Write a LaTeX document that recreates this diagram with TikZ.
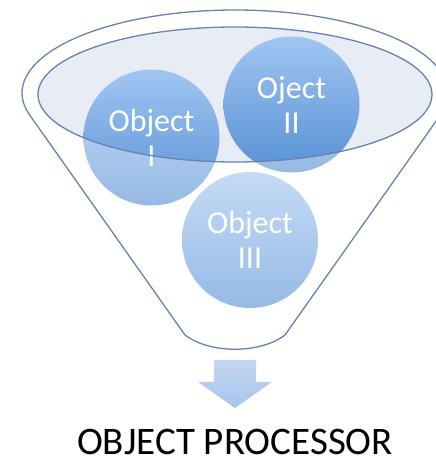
\documentclass[tikz,border=0pt]{standalone}
\usepackage{fontspec}
\setmainfont{Carlito}
\definecolor{funnelline}{RGB}{102,131,179}
\definecolor{rimfill}{RGB}{232,236,244}
\definecolor{circtop}{RGB}{162,198,241}
\definecolor{circbot}{RGB}{86,144,213}
\definecolor{arrowtop}{RGB}{196,214,242}
\definecolor{arrowbot}{RGB}{168,196,236}
\begin{document}
\begin{tikzpicture}[x=1pt,y=1pt,
  funnelstroke/.style={draw=funnelline, line width=1.3pt},
  ball/.style={circle, minimum size=136pt, inner sep=0pt,
    top color=circtop, bottom color=circbot, text=white,
    align=center, font=\fontsize{32}{35}\selectfont},
]
\useasboundingbox (0,0) rectangle (436,461);
\clip (0,0) rectangle (436,461);
% funnel mouth
\fill[rimfill] (235,366.5) ellipse[x radius=197, y radius=67.5];
% objects dropped into the funnel
\node[ball] (obj1) at (151.5,323.5) {Object\\I};
\node[ball] (obj2) at (291.5,356.5) {Oject\\II};
\node[ball] (obj3) at (250,221) {Object\\III};
% translucent funnel body over everything below the mouth
\fill[white, fill opacity=0.38, even odd rule]
  (0,0) rectangle (436,461)
  (235,366.5) ellipse[x radius=197, y radius=67.5];
% funnel outline
\draw[funnelstroke] (29.3,346.5)
  arc[start angle=195, end angle=-15, x radius=213, y radius=83]
  -- (285,126) .. controls (260,107) and (210,107) .. (185,126) -- cycle;
\draw[funnelstroke] (235,366.5) ellipse[x radius=197, y radius=67.5];
% output arrow
\shade[top color=arrowtop, bottom color=arrowbot]
  (214,101) -- (256,101) -- (256,79) -- (272,79) -- (235,53)
  -- (198,79) -- (214,79) -- cycle;
\node[anchor=base, inner sep=0pt, font=\fontsize{39}{40}\selectfont]
  (title) at (235,6) {OBJECT PROCESSOR};
\end{tikzpicture}
\end{document}
